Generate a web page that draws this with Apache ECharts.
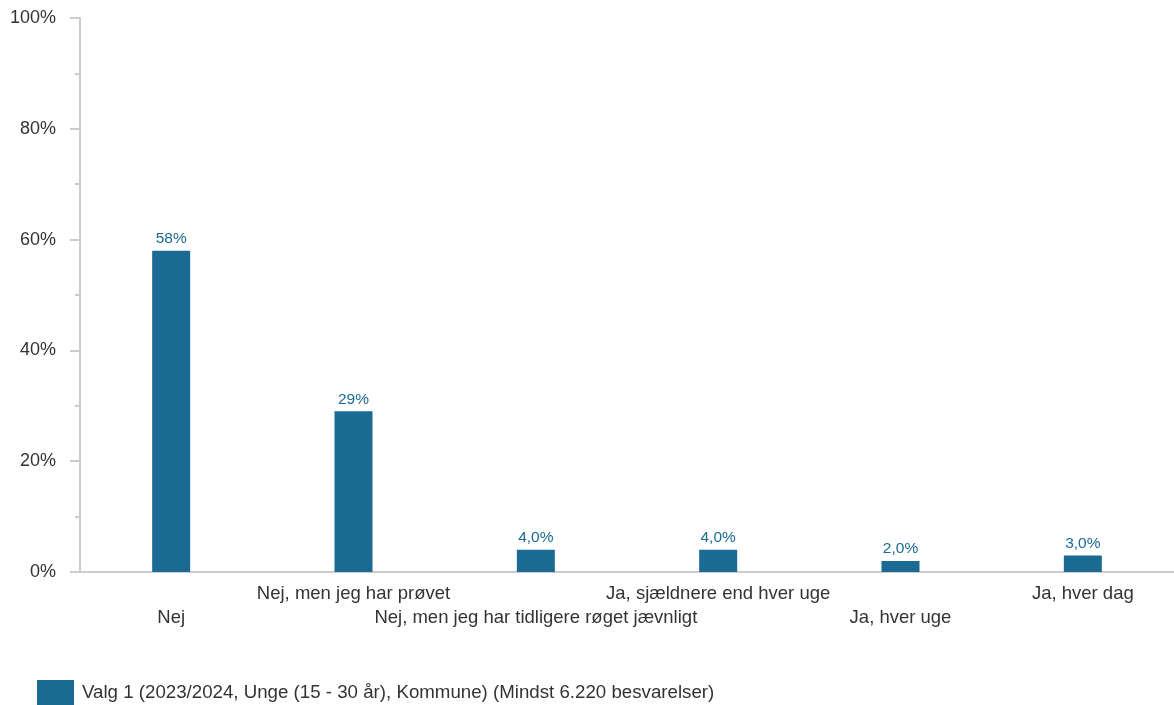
<!DOCTYPE html>
<html>
<head>
<meta charset="utf-8">
<script src="https://cdn.jsdelivr.net/npm/echarts@6/dist/echarts.min.js"></script>
<style>html,body{margin:0;padding:0;background:#fff}#c{width:1174px;height:705px}</style>
</head>
<body>
<div id="c"></div>
<script>
var categories = ["Nej", "Nej, men jeg har prøvet", "Nej, men jeg har tidligere røget jævnligt", "Ja, sjældnere end hver uge", "Ja, hver uge", "Ja, hver dag"];
var values = [58, 29, 4, 4, 2, 3];
var valueLabels = ["58%", "29%", "4,0%", "4,0%", "2,0%", "3,0%"];
var seriesName = "Valg 1 (2023/2024, Unge (15 - 30 år), Kommune) (Mindst 6.220 besvarelser)";
var yTicks = [0, 20, 40, 60, 80, 100];

var FONT = "'Liberation Sans', Arial, sans-serif";
var COLOR = "#1a6a93";
var chart = echarts.init(document.getElementById('c'));
chart.setOption({
  animation: false,
  textStyle: { fontFamily: FONT },
  grid: { left: 80, top: 18, width: 1098, bottom: 133, containLabel: false },
  legend: {
    left: 32, top: 675, itemWidth: 37, itemHeight: 25, itemGap: 10,
    icon: 'rect',
    textStyle: { fontFamily: FONT, fontSize: 18.7, color: '#333', padding: [0, 0, 0, 3] },
    data: [seriesName]
  },
  xAxis: {
    type: 'category', data: categories,
    axisLine: { lineStyle: { color: '#cccccc', width: 2 } },
    axisTick: { show: false },
    axisLabel: {
      interval: 0, margin: 10, fontSize: 18.5, color: '#333', lineHeight: 24, fontFamily: FONT,
      formatter: function (v, i) { return i % 2 === 0 ? '\n' + v : v; }
    }
  },
  yAxis: {
    type: 'value', min: 0, max: 100, interval: 20,
    axisLine: { show: true, lineStyle: { color: '#cccccc', width: 2 } },
    axisTick: { show: true, length: 10, lineStyle: { color: '#cccccc', width: 2 } },
    minorTick: { show: true, splitNumber: 2, length: 5, lineStyle: { color: '#cccccc', width: 2 } },
    splitLine: { show: false },
    axisLabel: {
      margin: 24, fontSize: 18, color: '#333', fontFamily: FONT, padding: [3, 0, 0, 0],
      formatter: function (v) { return yTicks.indexOf(v) >= 0 ? v + '%' : ''; }
    }
  },
  series: [{
    name: seriesName, type: 'bar', data: values, barWidth: 38,
    itemStyle: { color: COLOR },
    label: {
      show: true, position: 'top', distance: 4, fontSize: 15.5, color: COLOR, fontFamily: FONT,
      formatter: function (p) { return valueLabels[p.dataIndex]; }
    }
  }]
});
</script>
</body>
</html>
